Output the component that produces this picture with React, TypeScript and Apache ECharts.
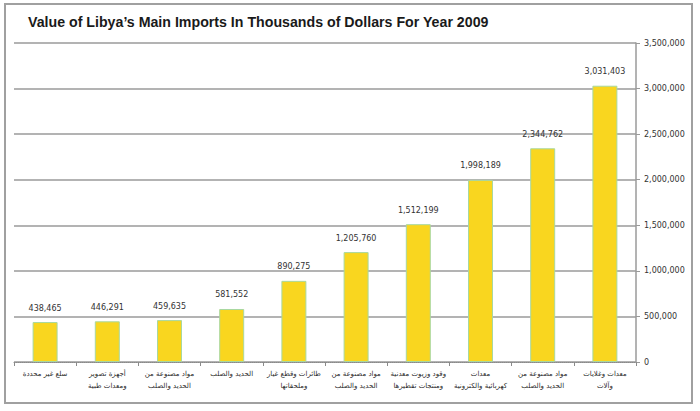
import React, { useEffect, useRef } from "react";
import * as echarts from "echarts";

const categories: string[] = [
  "سلع غير محددة",
  "أجهزة تصوير\nومعدات طبية",
  "مواد مصنوعة من\nالحديد والصلب",
  "الحديد والصلب",
  "طائرات وقطع غيار\nوملحقاتها",
  "مواد مصنوعة من\nالحديد والصلب",
  "وقود وزيوت معدنية\nومنتجات تقطيرها",
  "معدات\nكهربائية والكترونية",
  "مواد مصنوعة من\nالحديد والصلب",
  "معدات وغلايات\nوآلات",
];

const values: number[] = [
  438465, 446291, 459635, 581552, 890275, 1205760, 1512199, 1998189, 2344762, 3031403,
];

const yTicks = { min: 0, max: 3500000, interval: 500000 };

const titleText = "Value of Libya’s Main Imports In Thousands of Dollars For Year 2009";

const fmt = (v: number) => v.toLocaleString("en-US");

export default function App() {
  const ref = useRef<HTMLDivElement>(null);
  useEffect(() => {
    document.body.style.margin = "0";
    if (!ref.current) return;
    const chart = echarts.init(ref.current, undefined, { renderer: "svg" });
    chart.setOption({
      animation: false,
      backgroundColor: "#ffffff",
      title: {
        text: titleText,
        left: 23,
        top: 10,
        textStyle: {
          fontFamily: "Liberation Sans",
          fontWeight: "bold",
          fontSize: 14.2,
          color: "#1a1a1a",
        },
      },
      graphic: [
        {
          type: "rect",
          shape: { x: 5, y: 4, width: 687, height: 399 },
          style: { fill: "none", stroke: "#a0a0a0", lineWidth: 2 },
          silent: true,
          z: -1,
        },
      ],
      grid: { left: 14, right: 64, top: 43, bottom: 49 },
      xAxis: {
        type: "category",
        data: categories,
        axisLine: { show: true, lineStyle: { color: "#8a8a8a", type: "dotted", width: 1 } },
        axisTick: { show: true, alignWithLabel: false, length: 4, lineStyle: { color: "#8a8a8a" } },
        axisLabel: {
          interval: 0,
          margin: 6,
          fontSize: 7,
          lineHeight: 12,
          fontFamily: "DejaVu Sans",
          color: "#2a2a2a",
        },
      },
      yAxis: {
        type: "value",
        position: "right",
        min: yTicks.min,
        max: yTicks.max,
        interval: yTicks.interval,
        axisLine: { show: true, lineStyle: { color: "#9a9a9a", width: 1.5 } },
        axisTick: { show: true, length: 4, lineStyle: { color: "#9a9a9a" } },
        axisLabel: {
          margin: 8,
          fontSize: 8,
          fontFamily: "DejaVu Sans",
          color: "#333333",
          formatter: (v: number) => fmt(v),
        },
        splitLine: {
          show: true,
          lineStyle: { color: "#9a9a9a", width: 1.5 },
        },
      },
      series: [
        {
          type: "bar",
          data: values,
          barWidth: 25,
          itemStyle: { color: "#f9d61f", borderColor: "#a8d8a0", borderWidth: 1 },
          label: {
            show: true,
            position: "top",
            distance: 10,
            fontSize: 8,
            fontFamily: "DejaVu Sans",
            color: "#333333",
            formatter: (p: any) => fmt(p.value),
          },
        },
      ],
    });
    return () => chart.dispose();
  }, []);
  return <div ref={ref} style={{ width: 700, height: 411 }} />;
}
